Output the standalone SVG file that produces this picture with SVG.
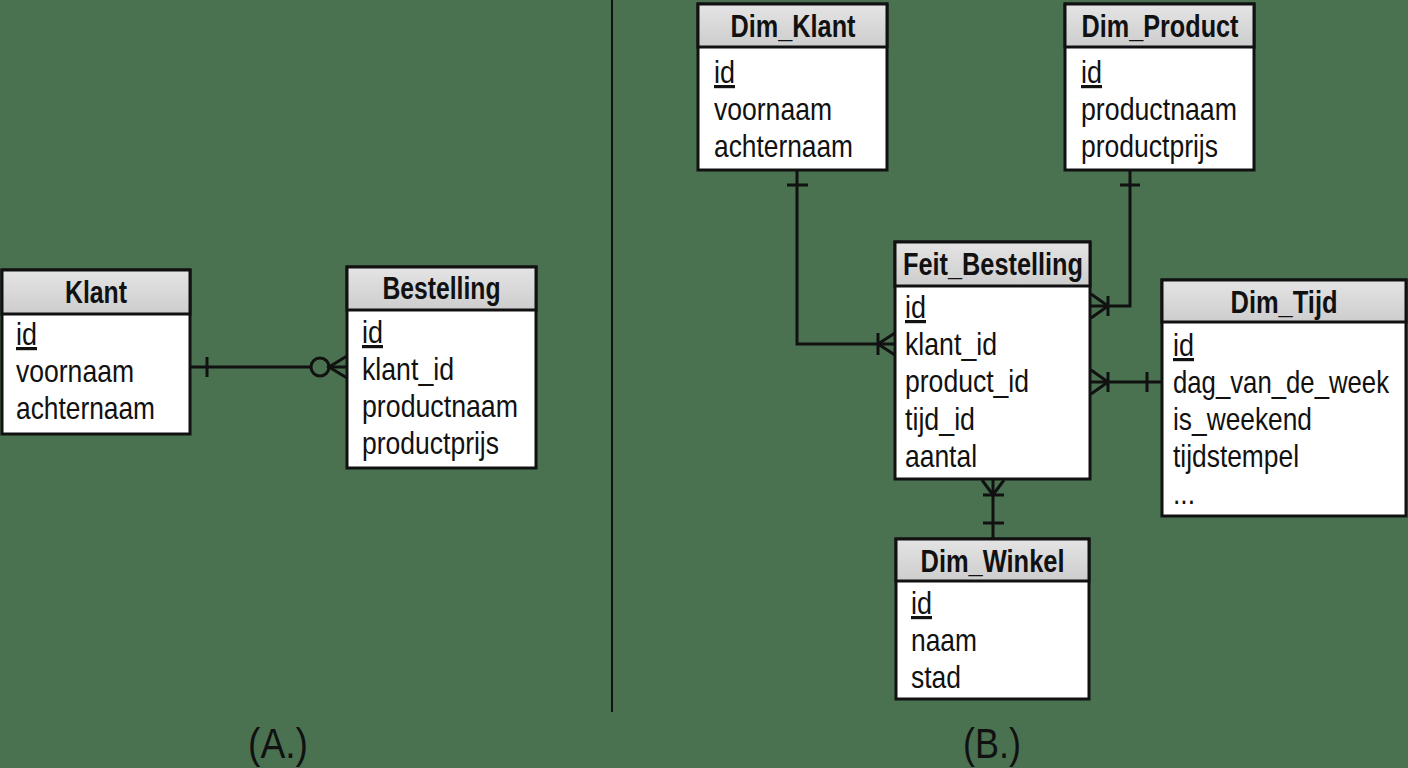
<svg xmlns="http://www.w3.org/2000/svg" width="1408" height="768" viewBox="0 0 1408 768">
<defs>
<linearGradient id="hdr" x1="0" y1="0" x2="0" y2="1">
<stop offset="0" stop-color="#e4e4e4"/>
<stop offset="1" stop-color="#cdcdcd"/>
</linearGradient>
<style>
.box{fill:#ffffff;stroke:#111;stroke-width:3}
.hd{fill:url(#hdr);stroke:#111;stroke-width:3}
.t{font-family:"Liberation Sans Narrow","Arial Narrow","Liberation Sans",sans-serif;font-weight:bold;font-size:31px;fill:#111;text-anchor:middle}
.f{font-family:"Liberation Sans Narrow","Arial Narrow","Liberation Sans",sans-serif;font-size:32px;fill:#111}
.pk{text-decoration:underline}
.lab{font-family:"Liberation Sans Narrow","Arial Narrow","Liberation Sans",sans-serif;font-size:42px;fill:#111;text-anchor:middle}
.c{fill:none;stroke:#111;stroke-width:3}
</style>
</defs>
<rect width="1408" height="768" fill="#4b7250"/>
<line x1="612" y1="0" x2="612" y2="712" stroke="#111" stroke-width="2"/>

<g id="klant">
<rect class="box" x="2" y="270" width="188" height="164"/>
<rect class="hd" x="2" y="270" width="188" height="44"/>
<text class="t" x="96" y="303" textLength="62" lengthAdjust="spacingAndGlyphs">Klant</text>
<text class="f pk" x="16" y="345" textLength="21" lengthAdjust="spacingAndGlyphs">id</text>
<text class="f" x="16" y="382" textLength="118" lengthAdjust="spacingAndGlyphs">voornaam</text>
<text class="f" x="16" y="419" textLength="139" lengthAdjust="spacingAndGlyphs">achternaam</text>
</g>

<g id="bestelling">
<rect class="box" x="347" y="267" width="189" height="201"/>
<rect class="hd" x="347" y="267" width="189" height="43"/>
<text class="t" x="441.5" y="299" textLength="118" lengthAdjust="spacingAndGlyphs">Bestelling</text>
<text class="f pk" x="362" y="343" textLength="21" lengthAdjust="spacingAndGlyphs">id</text>
<text class="f" x="362" y="380" textLength="92" lengthAdjust="spacingAndGlyphs">klant_id</text>
<text class="f" x="362" y="417" textLength="156" lengthAdjust="spacingAndGlyphs">productnaam</text>
<text class="f" x="362" y="454" textLength="137" lengthAdjust="spacingAndGlyphs">productprijs</text>
</g>

<g id="dim_klant">
<rect class="box" x="698" y="4" width="189" height="166"/>
<rect class="hd" x="698" y="4" width="189" height="43"/>
<text class="t" x="793" y="37" textLength="125" lengthAdjust="spacingAndGlyphs">Dim_Klant</text>
<text class="f pk" x="714" y="83" textLength="21" lengthAdjust="spacingAndGlyphs">id</text>
<text class="f" x="714" y="120" textLength="118" lengthAdjust="spacingAndGlyphs">voornaam</text>
<text class="f" x="714" y="157" textLength="139" lengthAdjust="spacingAndGlyphs">achternaam</text>
</g>

<g id="dim_product">
<rect class="box" x="1065" y="4" width="189" height="166"/>
<rect class="hd" x="1065" y="4" width="189" height="43"/>
<text class="t" x="1160" y="37" textLength="157" lengthAdjust="spacingAndGlyphs">Dim_Product</text>
<text class="f pk" x="1081" y="83" textLength="21" lengthAdjust="spacingAndGlyphs">id</text>
<text class="f" x="1081" y="120" textLength="156" lengthAdjust="spacingAndGlyphs">productnaam</text>
<text class="f" x="1081" y="157" textLength="137" lengthAdjust="spacingAndGlyphs">productprijs</text>
</g>

<g id="feit_bestelling">
<rect class="box" x="895" y="242" width="195" height="237"/>
<rect class="hd" x="895" y="242" width="195" height="44"/>
<text class="t" x="993" y="275" textLength="180" lengthAdjust="spacingAndGlyphs">Feit_Bestelling</text>
<text class="f pk" x="905" y="318" textLength="21" lengthAdjust="spacingAndGlyphs">id</text>
<text class="f" x="905" y="355" textLength="92" lengthAdjust="spacingAndGlyphs">klant_id</text>
<text class="f" x="905" y="392" textLength="124" lengthAdjust="spacingAndGlyphs">product_id</text>
<text class="f" x="905" y="430" textLength="70" lengthAdjust="spacingAndGlyphs">tijd_id</text>
<text class="f" x="905" y="467" textLength="72" lengthAdjust="spacingAndGlyphs">aantal</text>
</g>

<g id="dim_tijd">
<rect class="box" x="1162" y="280" width="244" height="236"/>
<rect class="hd" x="1162" y="280" width="244" height="42"/>
<text class="t" x="1284" y="313" textLength="107" lengthAdjust="spacingAndGlyphs">Dim_Tijd</text>
<text class="f pk" x="1173" y="356" textLength="21" lengthAdjust="spacingAndGlyphs">id</text>
<text class="f" x="1173" y="393" textLength="216" lengthAdjust="spacingAndGlyphs">dag_van_de_week</text>
<text class="f" x="1173" y="430" textLength="139" lengthAdjust="spacingAndGlyphs">is_weekend</text>
<text class="f" x="1173" y="467" textLength="126" lengthAdjust="spacingAndGlyphs">tijdstempel</text>
<text class="f" x="1173" y="504" textLength="22" lengthAdjust="spacingAndGlyphs">...</text>
</g>

<g id="dim_winkel">
<rect class="box" x="896" y="539" width="193" height="160"/>
<rect class="hd" x="896" y="539" width="193" height="42"/>
<text class="t" x="992.5" y="572" textLength="144" lengthAdjust="spacingAndGlyphs">Dim_Winkel</text>
<text class="f pk" x="911" y="614" textLength="21" lengthAdjust="spacingAndGlyphs">id</text>
<text class="f" x="911" y="651" textLength="66" lengthAdjust="spacingAndGlyphs">naam</text>
<text class="f" x="911" y="688" textLength="50" lengthAdjust="spacingAndGlyphs">stad</text>
</g>

<g id="connectors">
<path class="c" d="M190,367 H311 M329,367 H347"/>
<path class="c" d="M207,357 V377"/>
<circle class="c" cx="320" cy="367" r="9"/>
<path class="c" d="M347,356 L329,367 L347,378"/>
<path class="c" d="M797,170 V344 H895"/>
<path class="c" d="M787,185 H808"/>
<path class="c" d="M878,333 V355 M895,333 L878,344 L895,355"/>
<path class="c" d="M1130,170 V306 H1090"/>
<path class="c" d="M1120,185 H1140"/>
<path class="c" d="M1108,296 V316 M1091,294 L1108,306 L1091,318"/>
<path class="c" d="M1090,382 H1162"/>
<path class="c" d="M1108,372 V392 M1091,370 L1108,382 L1091,394"/>
<path class="c" d="M1147,372 V392"/>
<path class="c" d="M993,479 V539"/>
<path class="c" d="M982,480 L993,495 L1004,480"/>
<path class="c" d="M983,495 H1004 M983,523 H1004"/>
</g>

<text class="lab" x="278" y="758" textLength="60" lengthAdjust="spacingAndGlyphs">(A.)</text>
<text class="lab" x="992" y="758" textLength="58" lengthAdjust="spacingAndGlyphs">(B.)</text>
</svg>
